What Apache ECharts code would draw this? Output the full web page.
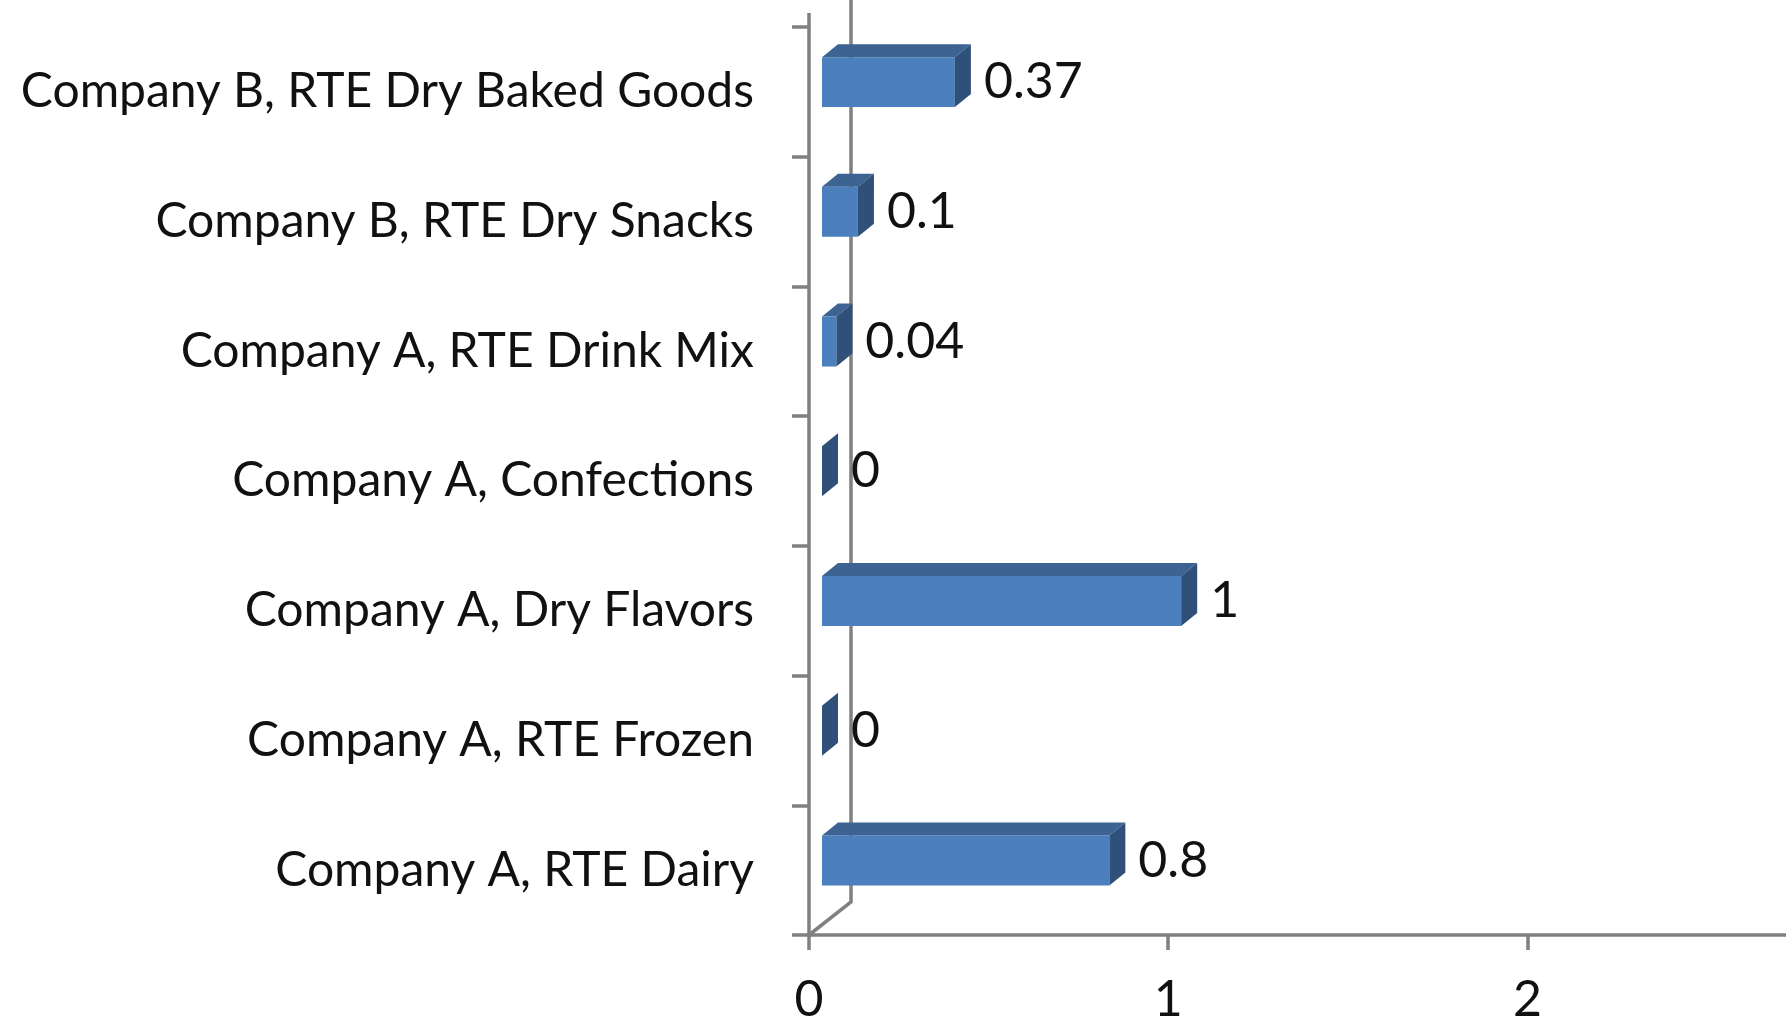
<!DOCTYPE html>
<html>
<head>
<meta charset="utf-8">
<script src="https://cdn.jsdelivr.net/npm/echarts@6/dist/echarts.min.js"></script>
<style>
  html, body { margin: 0; padding: 0; background: #fff; }
  #chart { width: 1786px; height: 1029px; }
</style>
</head>
<body>
<div id="chart"></div>
<script>
// categories top to bottom
const categories = [
  'Company B, RTE Dry Baked Goods',
  'Company B, RTE Dry Snacks',
  'Company A, RTE Drink Mix',
  'Company A, Confections',
  'Company A, Dry Flavors',
  'Company A, RTE Frozen',
  'Company A, RTE Dairy'
];
const values = [0.37, 0.1, 0.04, 0, 1, 0, 0.8];
const xTicks = [0, 1, 2];
const xMax = 2.72; // axis runs off the right edge of the picture

const FONT = 'Lato, "Open Sans", sans-serif';
const AXIS_COLOR = '#808080';
const FRONT = '#4b7fbd', TOP = '#3d6393', SIDE = '#2e5079';
const DX = 16, DY = 13, SHIFT = 13;

const chart = echarts.init(document.getElementById('chart'));

function renderBar(params, api) {
  const cat = api.value(0);
  const val = api.value(1);
  const p0 = api.coord([0, cat]);
  const p1 = api.coord([val, cat]);
  const band = api.size([0, 1])[1];
  const h = band * 0.385;
  const cy = p0[1] - band * 0.075;
  const xl = p0[0] + SHIFT, xr = p1[0] + SHIFT;
  const yt = cy - h / 2, yb = cy + h / 2;
  const children = [];
  if (xr > xl) {
    children.push({ type: 'rect', shape: { x: xl, y: yt, width: xr - xl, height: h }, style: { fill: FRONT } });
    children.push({ type: 'polygon', shape: { points: [[xl, yt], [xl + DX, yt - DY], [xr + DX, yt - DY], [xr, yt]] }, style: { fill: TOP } });
  }
  children.push({ type: 'polygon', shape: { points: [[xr, yt], [xr + DX, yt - DY], [xr + DX, yb - DY], [xr, yb]] }, style: { fill: SIDE } });
  children.push({
    type: 'text',
    style: {
      text: String(val), x: xr + DX + 13, y: cy,
      verticalAlign: 'middle', align: 'left',
      font: '50px ' + FONT, fill: '#111'
    }
  });
  return { type: 'group', children: children };
}

const option = {
  animation: false,
  grid: { left: 809, top: 27, bottom: 94, right: 0, containLabel: false },
  xAxis: {
    type: 'value', min: 0, max: xMax,
    axisLine: { show: true, lineStyle: { color: AXIS_COLOR, width: 3.5 } },
    axisTick: { show: true, length: 15, customValues: xTicks, lineStyle: { color: AXIS_COLOR, width: 3.5 } },
    splitLine: { show: false },
    axisLabel: { margin: 40, fontSize: 50, fontFamily: FONT, color: '#111', customValues: xTicks }
  },
  yAxis: {
    type: 'category', data: categories, inverse: true,
    axisLine: { show: true, lineStyle: { color: AXIS_COLOR, width: 3.5 } },
    axisTick: { show: true, length: 17, lineStyle: { color: AXIS_COLOR, width: 3.5 } },
    axisLabel: { margin: 55, fontSize: 48, fontFamily: FONT, color: '#111' }
  },
  series: [{
    type: 'custom',
    renderItem: renderBar,
    encode: { x: 1, y: 0 },
    data: categories.map((c, i) => [i, values[i]])
  }]
};
chart.setOption(option);

// back wall edge of the 3D plot
const bw = chart.getModel().getComponent('yAxis', 0).axis.getBandWidth();
const x0 = chart.convertToPixel({ xAxisIndex: 0 }, 0);
const yBot = chart.convertToPixel({ yAxisIndex: 0 }, categories[categories.length - 1]) + bw / 2;
const yTop = chart.convertToPixel({ yAxisIndex: 0 }, categories[0]) - bw / 2;
chart.setOption({
  graphic: [
    { type: 'polyline', z: 0, shape: { points: [[x0, yBot], [x0 + 42, yBot - 33], [x0 + 42, 0]] }, style: { stroke: AXIS_COLOR, lineWidth: 3.5, fill: null } },
    { type: 'line', z: 0, shape: { x1: x0, y1: yTop, x2: x0, y2: yTop - 14 }, style: { stroke: AXIS_COLOR, lineWidth: 3.5 } }
  ]
});
window.onresize = chart.resize;
</script>
</body>
</html>
